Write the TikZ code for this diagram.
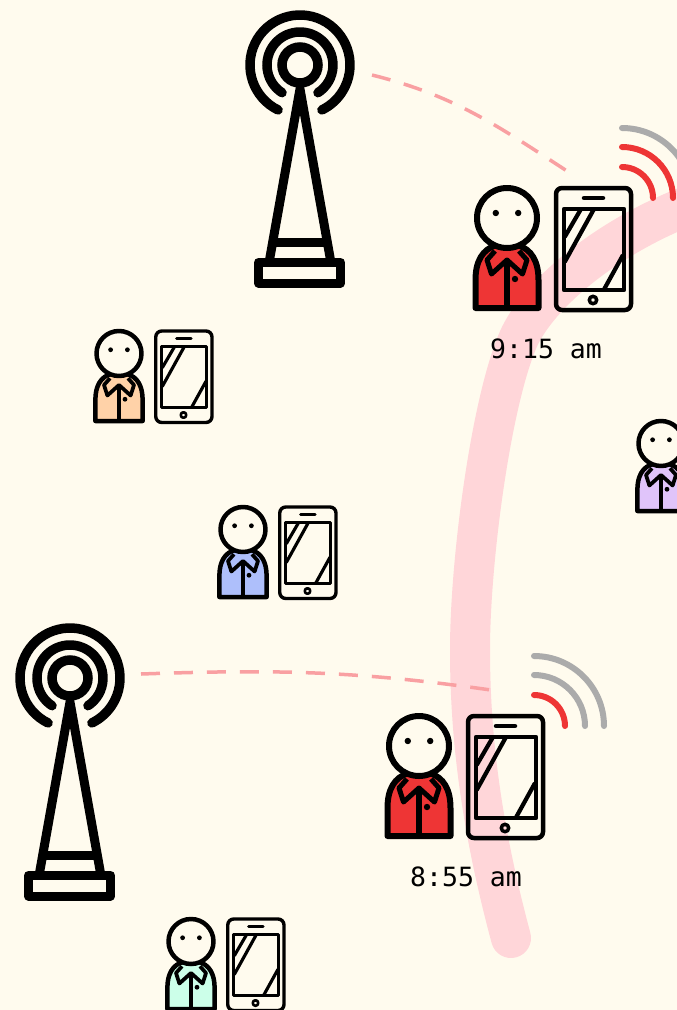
\documentclass[tikz,border=0pt]{standalone}
\usepackage{fontspec}
\usepackage{xcolor}
\setmonofont{DejaVu Sans Mono}
\usetikzlibrary{positioning}
\definecolor{paper}{HTML}{FFFBEE}
\definecolor{band}{HTML}{FFD6D9}
\definecolor{link}{HTML}{F9A0A2}
\definecolor{sigon}{HTML}{EE3535}
\definecolor{sigoff}{HTML}{ABABAB}
\definecolor{shirtred}{HTML}{EE3535}
\definecolor{shirtorange}{HTML}{FFD2A8}
\definecolor{shirtblue}{HTML}{AEBFFB}
\definecolor{shirtpurple}{HTML}{E0C4FA}
\definecolor{shirtmint}{HTML}{CCFFE9}
\tikzset{
    pics/tower/.style={code={
        \draw[line width=9.5pt, line cap=round] (0.5,0) ++(116:50) arc[start angle=116, end angle=424, radius=50];
        \draw[line width=9.5pt, line cap=round] (0.5,0) ++(123:33) arc[start angle=123, end angle=417, radius=33];
        \draw[line width=9.5pt] (0.5,0) circle[radius=18];
        \draw[line width=9pt, line join=round] (-30,195) -- (0.5,24) -- (31,195);
        \draw[line width=9pt] (-27,177) -- (28,177);
        \draw[line width=9pt, line join=round] (-41,197.5) rectangle (41,218);
    }},
    pics/user/.style 2 args={code={
        \begin{scope}[scale=#2, line join=round]
        \draw[fill=#1, line width=#2*6pt] (-31.5,90) -- (-31.5,62) .. controls (-31.5,44) and (-25,31) .. (-10,27) -- (10,27) .. controls (25,31) and (31.5,44) .. (31.5,62) -- (31.5,90) -- cycle;
        \draw[fill=paper, line width=#2*6pt] (0,0) circle[radius=30];
        \fill (-11.2,-5) circle[radius=3.2];
        \fill (11.2,-5) circle[radius=3.2];
        \draw[line width=#2*5pt] (-12,33) -- (-20,42) -- (-15.5,56) -- (0,42) -- (15.5,56) -- (20,42) -- (12,33);
        \draw[line width=#2*5.5pt] (0,42) -- (0,90);
        \fill (8,61) circle[radius=3.2];
        \draw[line width=#2*4.5pt, rounded corners=6] (49,-30) rectangle (124,92);
        \draw[line width=#2*4.5pt] (57,-9) rectangle (117,72);
        \draw[line width=#2*4.5pt, line cap=round] (77,-20) -- (96,-20);
        \draw[line width=#2*3.5pt] (86,82) circle[radius=3.7];
        \draw[line width=#2*4.2pt] (74,-9) -- (57.7,19);
        \draw[line width=#2*4.2pt] (87,-9) -- (57.7,44);
        \draw[line width=#2*4.2pt] (116,37) -- (96.7,72);
        \coordinate (-wifi) at (115,-20);
        \end{scope}
    }},
    wave/.style={line width=6pt, line cap=round},
    linkline/.style={link, line width=3.5pt, dash pattern=on 19pt off 14pt},
    stamp/.style={font=\ttfamily\fontsize{26.5}{30}\selectfont, inner sep=0pt}
}
\begin{document}
\begin{tikzpicture}[x=1pt, y=-1pt]
\useasboundingbox (0,0) rectangle (677,1010);
\clip (0,0) rectangle (677,1010);
\fill[paper] (0,0) rectangle (677,1010);

% route of the moving user
\draw[band, line width=40pt, line cap=round] (511,938) .. controls (482,830) and (470,740) .. (470,650) .. controls (470,560) and (491,403) .. (518,340) .. controls (536,298) and (600,240) .. (690,205);

\pic (towerTop) at (299.5,65) {tower};
\pic (towerLow) at (69.5,678) {tower};

\pic (userOrange) at (119,353.5) {user={shirtorange}{0.75}};
\pic (userBlue) at (243,529.5) {user={shirtblue}{0.75}};
\pic (userPurple) at (661,443.5) {user={shirtpurple}{0.75}};
\pic (userMint) at (191,941.5) {user={shirtmint}{0.75}};
\pic (userLate) at (507,218) {user={shirtred}{1}};
\pic (userEarly) at (419,746) {user={shirtred}{1}};

% signal arcs
\foreach \r/\c in {31/sigon,51/sigon,70/sigoff}
    \draw[wave, \c] (userLate-wifi) ++(0,-\r) arc[start angle=-90, end angle=0, radius=\r];
\foreach \r/\c in {31/sigon,51/sigoff,70/sigoff}
    \draw[wave, \c] (userEarly-wifi) ++(0,-\r) arc[start angle=-90, end angle=0, radius=\r];

% links
\coordinate (linkTopA) at (372,75);
\coordinate (linkTopB) at (567,171);
\coordinate (linkLowA) at (141,674);
\coordinate (linkLowB) at (491,690);
\draw[linkline] (linkTopA) to[out=-14, in=147] (linkTopB);
\draw[linkline] (linkLowA) to[out=2, in=172] (linkLowB);

\node[stamp] (timeLate) at (546,349) {9:15 am};
\node[stamp] (timeEarly) at (466,877) {8:55 am};
\end{tikzpicture}
\end{document}
